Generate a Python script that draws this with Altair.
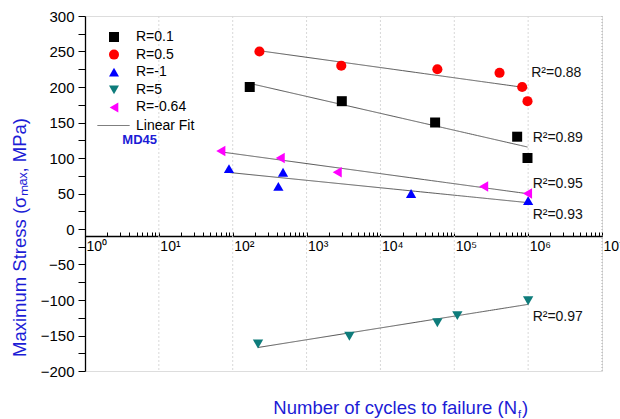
import altair as alt
import pandas as pd

# ---------------- data ----------------
series_names = ["R=0.1", "R=0.5", "R=-1", "R=5", "R=-0.64"]
series_colors = ["#000000", "#ff0000", "#0000ff", "#0e7c7b", "#ff00ff"]
series_shapes = ["square", "circle", "triangle-up", "triangle-down", "triangle-left"]
series_sizes = [100, 110, 150, 150, 150]

cycles_r01 = [170, 3000, 55000, 710000, 980000]
stress_r01 = [200, 180, 150, 130, 100]
cycles_r05 = [230, 2950, 59000, 410000, 830000, 980000]
stress_r05 = [250, 230, 225, 220, 200, 180]
cycles_rm1 = [89, 415, 480, 26000, 1000000]
stress_rm1 = [85, 60, 80, 50, 40]
cycles_r5 = [220, 3800, 59000, 110000, 1000000]
stress_r5 = [-162, -151, -132, -122, -101]
cycles_rm064 = [69, 440, 2600, 250000, 980000]
stress_rm064 = [110, 100, 80, 60, 50]

r2_labels = ["R²=0.88", "R²=0.89", "R²=0.95", "R²=0.93", "R²=0.97"]
r2_cycles = [1.1e6, 1.15e6, 1.15e6, 1.15e6, 1.15e6]
r2_stress = [220, 128, 63, 20, -124]

decades = [10, 100, 1000, 10000, 100000, 1000000]
right_edge = [10000000]
x_ticks = [m * 10 ** d for d in range(7) for m in range(1, 10)] + [10000000]
y_ticks = list(range(-200, 301, 25))

note_text = ["MD45"]
note_cycles = [3.2]
note_stress = [125]

# ---------------- tables ----------------
all_cycles = [cycles_r01, cycles_r05, cycles_rm1, cycles_r5, cycles_rm064]
all_stress = [stress_r01, stress_r05, stress_rm1, stress_r5, stress_rm064]
rows = []
for name, cs, ss in zip(series_names, all_cycles, all_stress):
    for c, s in zip(cs, ss):
        rows.append({"N": c, "S": s, "series": name})
df = pd.DataFrame(rows)
df_r2 = pd.DataFrame({"N": r2_cycles, "S": r2_stress, "t": r2_labels})
df_dec = pd.DataFrame({"N": decades})
df_edge = pd.DataFrame({"N": right_edge})
df_note = pd.DataFrame({"N": note_cycles, "S": note_stress, "t": note_text})

FONT = "Liberation Sans"
BLUE = "#1c1cd6"

xscale = alt.Scale(type="log", domain=[1, 10000000], nice=False)
yscale = alt.Scale(domain=[-200, 300], nice=False, zero=False)

sup = "['⁰','¹','²','³','⁴','⁵','⁶','⁷']"
xaxis = alt.Axis(
    orient="top", offset=-220, values=x_ticks, grid=False, title=None,
    labelExpr=("abs(log(datum.value)/LN10 - round(log(datum.value)/LN10)) < 0.001 ? '10' + "
               + sup + "[round(log(datum.value)/LN10)] : ''"),
    labelBaseline="top", labelAlign="left", labelPadding=-7, labelOffset=1,
    labelFontSize=14, labelFont=FONT, labelColor="#000", labelFlush=False,
    labelOverlap=False, labelBound=False,
    tickSize=4, tickColor="#000", domainColor="#000", domainWidth=1.3,
)
yaxis = alt.Axis(
    values=y_ticks, grid=False,
    labelExpr="datum.value % 50 == 0 ? datum.label : ''",
    labelFontSize=15, labelFont=FONT, labelColor="#000", labelPadding=4,
    labelFlush=False, labelOverlap=False,
    tickSize=7, tickColor="#000", domainColor="#000", domainWidth=1.3,
    title="Maximum Stress (σₘₐₓ, MPa)", titleFont=FONT, titleFontSize=18.5,
    titleFontWeight="normal", titleColor=BLUE, titleX=-66, titleY=221,
    titleAngle=-90, titleAlign="center", titleBaseline="middle",
)

X = alt.X("N:Q", scale=xscale, axis=xaxis)
Y = alt.Y("S:Q", scale=yscale, axis=yaxis)

grid = alt.Chart(df_dec).mark_rule(color="#d8d8d8", strokeDash=[2, 2], strokeWidth=1).encode(
    x=X)
edge = alt.Chart(df_edge).mark_rule(color="#aaaaaa", strokeDash=[1, 2], strokeWidth=1).encode(
    x=X)

fit = alt.Chart(df).transform_regression(
    "N", "S", method="log", groupby=["series"]
).transform_calculate(fit="'Linear Fit'").mark_line(color="#555555", strokeWidth=1).encode(
    x=X, y=Y, detail="series:N",
    strokeDash=alt.StrokeDash(
        "fit:N", scale=alt.Scale(domain=["Linear Fit"], range=[[1, 0]]),
        legend=alt.Legend(orient="none", legendX=12, legendY=93, title=None,
                          symbolType="stroke", symbolSize=1024, symbolStrokeColor="#555555",
                          symbolStrokeWidth=1, labelFontSize=14, labelFont=FONT,
                          labelColor="#000", labelOffset=6, padding=0)),
)

leg = alt.Legend(orient="none", legendX=22, legendY=14, title=None,
                 labelFontSize=14, labelFont=FONT, labelColor="#000",
                 symbolSize=100, labelOffset=15, rowPadding=3.6, padding=0,
                 symbolStrokeWidth=0)

points = alt.Chart(df).mark_point(filled=True, opacity=1, strokeWidth=0).encode(
    x=X, y=Y,
    color=alt.Color("series:N", scale=alt.Scale(domain=series_names, range=series_colors), legend=leg),
    shape=alt.Shape("series:N", scale=alt.Scale(domain=series_names, range=series_shapes), legend=leg),
    size=alt.Size("series:N", scale=alt.Scale(domain=series_names, range=series_sizes), legend=None),
)

r2 = alt.Chart(df_r2).mark_text(align="left", baseline="middle", fontSize=14, font=FONT, color="#111").encode(
    x=X, y=Y, text="t:N")

note = alt.Chart(df_note).mark_text(align="left", baseline="middle", fontSize=13, font=FONT,
                                    fontWeight="bold", color=BLUE).encode(x=X, y=Y, text="t:N")

one = pd.DataFrame({"k": [0]})
xt1 = alt.Chart(one).mark_text(align="right", baseline="alphabetic", fontSize=18.5, font=FONT, color=BLUE).encode(
    x=alt.value(432), y=alt.value(398), text=alt.value("Number of cycles to failure (N"))
xt2 = alt.Chart(one).mark_text(align="left", baseline="alphabetic", fontSize=11, font=FONT, color=BLUE).encode(
    x=alt.value(433), y=alt.value(402), text=alt.value("f"))
xt3 = alt.Chart(one).mark_text(align="left", baseline="alphabetic", fontSize=18.5, font=FONT, color=BLUE).encode(
    x=alt.value(437), y=alt.value(398), text=alt.value(")"))

chart = alt.layer(grid, edge, fit, points, r2, note, xt1, xt2, xt3).resolve_scale(
    color="independent", shape="independent", strokeDash="independent"
).properties(
    width=517, height=355,
    autosize=alt.AutoSizeParams(type="none"),
    padding={"left": 85, "top": 16, "right": 18, "bottom": 48},
).configure_view(stroke=None).configure(background="white")

chart.save("out.html", embed_options={"renderer": "svg", "actions": False})
